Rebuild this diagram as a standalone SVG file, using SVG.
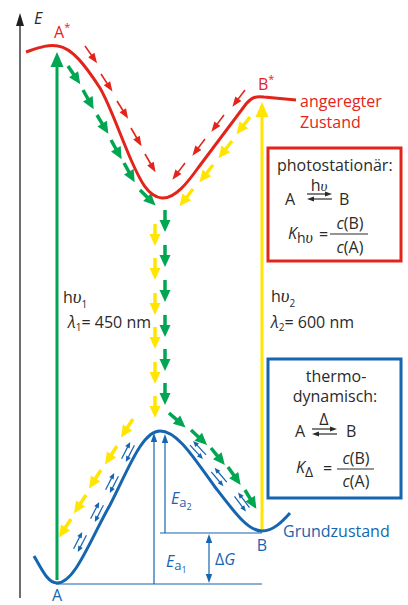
<svg xmlns="http://www.w3.org/2000/svg" width="408" height="605" viewBox="0 0 408 605">
<style>
text{font-family:"Open Sans","Noto Sans",sans-serif;}
.t{fill:#2b2a29;font-size:16px}
.r{fill:#e3241b;font-size:16px}
.b{fill:#1565b0;font-size:16px}
.i{font-style:italic}
.u{font-family:"Liberation Serif",serif;font-style:italic}
.thin{stroke:#2b2a29;stroke-width:1.2;fill:none}
.bl{stroke:#1565b0;stroke-width:1.2;fill:none}
</style>
<defs>
<g id="ag"><line x1="0" y1="0" x2="12" y2="0" stroke="#00a651" stroke-width="3.5"/><polygon points="10,-5.5 22,0 10,5.5" fill="#00a651"/></g>
<g id="ay"><line x1="0" y1="0" x2="12" y2="0" stroke="#ffe500" stroke-width="3.5"/><polygon points="10,-5.5 22,0 10,5.5" fill="#ffe500"/></g>
<g id="ar"><line x1="0" y1="0" x2="13" y2="0" stroke="#e3241b" stroke-width="1.6"/><polygon points="11,-3.8 21,0 11,3.8" fill="#e3241b"/></g>
<g id="bp"><line x1="-9" y1="-2.6" x2="5" y2="-2.6" stroke="#1565b0" stroke-width="1.2"/><polygon points="4,-5.1 10,-2.6 4,-0.1" fill="#1565b0"/><line x1="9" y1="2.6" x2="-5" y2="2.6" stroke="#1565b0" stroke-width="1.2"/><polygon points="-4,0.1 -10,2.6 -4,5.1" fill="#1565b0"/></g>
</defs>

<g id="axis">
<line x1="20" y1="598" x2="20" y2="22" stroke="#6d6e70" stroke-width="2"/>
<polygon points="20,13 16,26 24,26" fill="#231f20"/>
<text x="34" y="24" class="t i">E</text>
</g>

<g id="connectors">
<line x1="57" y1="580" x2="57" y2="65" stroke="#00a651" stroke-width="3"/>
<polygon points="57,52 50.5,67 63.5,67" fill="#00a651"/>
<line x1="262" y1="530" x2="262" y2="115" stroke="#ffe500" stroke-width="3"/>
<polygon points="262,102 255.5,117 268.5,117" fill="#ffe500"/>

<use href="#ar" transform="translate(85,46) rotate(55)"/>
<use href="#ar" transform="translate(101,74) rotate(57)"/>
<use href="#ar" transform="translate(117,101) rotate(58)"/>
<use href="#ar" transform="translate(131,128) rotate(60)"/>
<use href="#ar" transform="translate(145,154) rotate(60)"/>
<use href="#ar" transform="translate(245,90) rotate(127)"/>
<use href="#ar" transform="translate(224,115) rotate(127)"/>
<use href="#ar" transform="translate(205,139) rotate(127)"/>
<use href="#ar" transform="translate(185,163) rotate(127)"/>

<use href="#ag" transform="translate(68,66) rotate(56)"/>
<use href="#ag" transform="translate(83,90) rotate(61)"/>
<use href="#ag" transform="translate(97,115) rotate(59)"/>
<use href="#ag" transform="translate(111,140) rotate(61)"/>
<use href="#ag" transform="translate(124,163) rotate(61)"/>
<use href="#ag" transform="translate(140,190) rotate(45)"/>
<use href="#ag" transform="translate(165,210) rotate(90)"/>
<use href="#ag" transform="translate(165,245) rotate(90)"/>
<use href="#ag" transform="translate(165,280) rotate(90)"/>
<use href="#ag" transform="translate(165,315) rotate(90)"/>
<use href="#ag" transform="translate(165,349) rotate(90)"/>
<use href="#ag" transform="translate(165,383) rotate(90)"/>
<use href="#ag" transform="translate(169,413) rotate(41)"/>
<use href="#ag" transform="translate(191,430) rotate(43)"/>
<use href="#ag" transform="translate(211,448) rotate(51)"/>
<use href="#ag" transform="translate(228,467) rotate(55)"/>
<use href="#ag" transform="translate(245,490) rotate(59)"/>

<use href="#ay" transform="translate(250,117) rotate(128)"/>
<use href="#ay" transform="translate(232,141) rotate(128)"/>
<use href="#ay" transform="translate(213,165) rotate(128)"/>
<use href="#ay" transform="translate(193,189) rotate(128)"/>
<use href="#ay" transform="translate(155,224) rotate(90)"/>
<use href="#ay" transform="translate(155,258) rotate(90)"/>
<use href="#ay" transform="translate(155,293) rotate(90)"/>
<use href="#ay" transform="translate(155,327) rotate(90)"/>
<use href="#ay" transform="translate(155,362) rotate(90)"/>
<use href="#ay" transform="translate(155,396) rotate(90)"/>
<use href="#ay" transform="translate(133,419) rotate(123)"/>
<use href="#ay" transform="translate(117,446) rotate(123)"/>
<use href="#ay" transform="translate(101,470) rotate(123)"/>
<use href="#ay" transform="translate(86,495) rotate(123)"/>
<use href="#ay" transform="translate(71,519) rotate(123)"/>

<use href="#bp" transform="translate(128,452) rotate(-63)"/>
<use href="#bp" transform="translate(112,483) rotate(-63)"/>
<use href="#bp" transform="translate(97,512) rotate(-63)"/>
<use href="#bp" transform="translate(80,542) rotate(-63)"/>
<use href="#bp" transform="translate(198,450) rotate(-133) scale(1,-1)"/>
<use href="#bp" transform="translate(219,477) rotate(-130) scale(1,-1)"/>
<use href="#bp" transform="translate(242,502) rotate(-127) scale(1,-1)"/>

<line x1="56" y1="584" x2="262" y2="584" class="bl"/>
<line x1="160" y1="533" x2="262" y2="533" class="bl"/>
<line x1="154" y1="584" x2="154" y2="440" class="bl"/>
<polygon points="154,433 150.8,442 157.2,442" fill="#1565b0"/>
<line x1="165" y1="533" x2="165" y2="441" class="bl"/>
<polygon points="165,434 161.8,443 168.2,443" fill="#1565b0"/>
<line x1="209" y1="541" x2="209" y2="576" class="bl"/>
<polygon points="209,534 205.8,543 212.2,543" fill="#1565b0"/>
<polygon points="209,583 205.8,574 212.2,574" fill="#1565b0"/>
</g>

<g id="excited-curve">
<path d="M26,52 C38,48 48,44 58,46 C72,48 85,65 100,88 C110,105 120,135 132,162 C140,180 148,197 162,198 C175,199 188,182 198,168 L246,104 C252,97 256,96 264,97 C275,98 285,99 296,100" fill="none" stroke="#e3241b" stroke-width="3"/>
<text x="54" y="38" class="r">A<tspan font-size="11" dy="-7">*</tspan></text>
<text x="258" y="90" class="r">B<tspan font-size="11" dy="-7">*</tspan></text>
<text x="300" y="107" class="r" font-size="15.5">angeregter</text>
<text x="300" y="128" class="r" font-size="15.5">Zustand</text>
</g>

<g id="ground-curve">
<path d="M34,556 C42,570 48,583 57,583 C75,583 90,540 110,505 C128,470 142,431 160,431 C178,431 195,460 215,487 C235,513 248,531 262,531 C273,531 282,522 290,513" fill="none" stroke="#1565b0" stroke-width="3"/>
<text x="57" y="601" class="b" text-anchor="middle">A</text>
<text x="262" y="551" class="b" text-anchor="middle">B</text>
<text x="283" y="537" class="b">Grundzustand</text>
<text x="171" y="504" class="b i" font-size="17">E<tspan font-style="normal" font-size="13" dy="3">a</tspan><tspan font-style="normal" font-size="9" dy="3">2</tspan></text>
<text x="166" y="567" class="b i" font-size="17">E<tspan font-style="normal" font-size="13" dy="3">a</tspan><tspan font-style="normal" font-size="9" dy="3">1</tspan></text>
<text x="215" y="565" class="b" font-size="17">Δ<tspan font-style="italic">G</tspan></text>
</g>

<g id="hv1">
<text x="63" y="303" class="t" font-size="17">h<tspan class="u" font-size="19">υ</tspan><tspan font-size="10" dy="5">1</tspan></text>
<text x="68" y="328" class="t" font-size="15"><tspan font-style="italic">λ</tspan><tspan font-size="10" dy="3">1</tspan><tspan dy="-3">= 450 nm</tspan></text>
</g>

<g id="hv2">
<text x="271" y="302" class="t" font-size="17">h<tspan class="u" font-size="19">υ</tspan><tspan font-size="10" dy="5">2</tspan></text>
<text x="271" y="328" class="t" font-size="15"><tspan font-style="italic">λ</tspan><tspan font-size="10" dy="3">2</tspan><tspan dy="-3">= 600 nm</tspan></text>
</g>

<g id="photostationary-box">
<rect x="268" y="148" width="133" height="113" fill="#fff" stroke="#e3241b" stroke-width="3"/>
<text x="277" y="171" class="t">photostationär:</text>
<text x="285" y="205" class="t">A</text>
<text x="319" y="191" class="t" font-size="13" text-anchor="middle">h<tspan class="u" font-size="15">υ</tspan></text>
<line x1="307" y1="194" x2="326" y2="194" class="thin"/>
<polygon points="325,191.5 332,194 325,196.5" fill="#2b2a29"/>
<line x1="313" y1="199" x2="332" y2="199" class="thin"/>
<polygon points="314,196.5 307,199 314,201.5" fill="#2b2a29"/>
<text x="339" y="205" class="t">B</text>
<text x="288" y="239" class="t i">K<tspan font-style="normal" font-size="14" dy="4">h<tspan class="u" font-size="16">υ</tspan></tspan></text>
<text x="319" y="240" class="t" font-size="15">=</text>
<text x="350" y="229" class="t" font-size="15" text-anchor="middle"><tspan font-style="italic">c</tspan>(B)</text>
<line x1="330" y1="234" x2="368" y2="234" stroke="#2b2a29" stroke-width="1"/>
<text x="350" y="253" class="t" font-size="15" text-anchor="middle"><tspan font-style="italic">c</tspan>(A)</text>
</g>

<g id="thermodynamic-box">
<rect x="268" y="359" width="133" height="139" fill="#fff" stroke="#1565b0" stroke-width="3"/>
<text x="336" y="382" class="t" text-anchor="middle">thermo-</text>
<text x="335" y="402" class="t" text-anchor="middle">dynamisch:</text>
<text x="295" y="437" class="t">A</text>
<text x="324" y="425" class="t" font-size="13" text-anchor="middle">Δ</text>
<line x1="312" y1="429" x2="331" y2="429" class="thin"/>
<polygon points="330,426.5 337,429 330,431.5" fill="#2b2a29"/>
<line x1="318" y1="434" x2="337" y2="434" class="thin"/>
<polygon points="319,431.5 312,434 319,436.5" fill="#2b2a29"/>
<text x="346" y="437" class="t">B</text>
<text x="296" y="473" class="t i">K<tspan font-style="normal" font-size="14" dy="4">Δ</tspan></text>
<text x="323" y="474" class="t" font-size="15">=</text>
<text x="356" y="464" class="t" font-size="15" text-anchor="middle"><tspan font-style="italic">c</tspan>(B)</text>
<line x1="337" y1="469" x2="374" y2="469" stroke="#2b2a29" stroke-width="1"/>
<text x="356" y="487" class="t" font-size="15" text-anchor="middle"><tspan font-style="italic">c</tspan>(A)</text>
</g>
</svg>
